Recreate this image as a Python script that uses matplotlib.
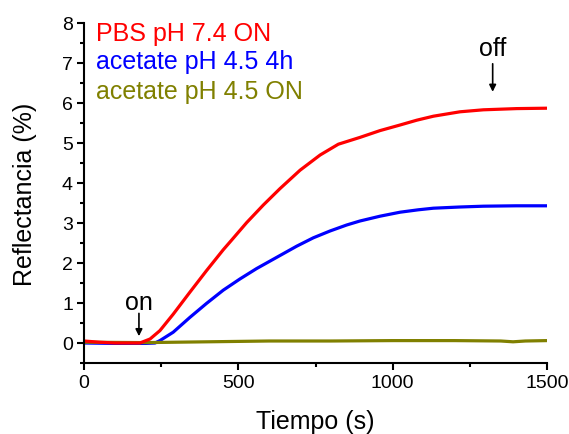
import matplotlib
matplotlib.use("Agg")
import matplotlib.pyplot as plt

plt.rcParams['font.family'] = ['Liberation Sans', 'DejaVu Sans']

# Reflectance traces (time in s, reflectance in %)
t_pbs = [0, 50, 100, 150, 181, 214, 246, 289, 343, 397, 451, 478, 527, 581,
         635, 700, 765, 824, 894, 959, 1024, 1078, 1132, 1218, 1294, 1402, 1500]
r_pbs = [0.05, 0.02, 0.0, 0.0, 0.0, 0.1, 0.31, 0.72, 1.27, 1.81, 2.33, 2.57,
         3.01, 3.45, 3.86, 4.32, 4.7, 4.97, 5.14, 5.31, 5.45, 5.57, 5.67,
         5.78, 5.83, 5.86, 5.87]

t_ac4h = [0, 100, 200, 230, 246, 289, 343, 397, 451, 505, 559, 624, 689, 743,
          797, 851, 894, 959, 1024, 1083, 1132, 1218, 1294, 1400, 1500]
r_ac4h = [0.0, -0.01, -0.01, 0.0, 0.06, 0.27, 0.64, 0.99, 1.32, 1.6, 1.86,
          2.14, 2.42, 2.63, 2.8, 2.95, 3.05, 3.17, 3.27, 3.33, 3.37, 3.4,
          3.42, 3.43, 3.43]

t_acon = [0, 200, 400, 600, 800, 1000, 1200, 1350, 1390, 1430, 1500]
r_acon = [0.02, 0.01, 0.03, 0.05, 0.05, 0.06, 0.06, 0.05, 0.03, 0.05, 0.06]

labels = ["PBS pH 7.4 ON", "acetate pH 4.5 4h", "acetate pH 4.5 ON"]
colors = ["#ff0000", "#0000ff", "#808000"]

fig = plt.figure(figsize=(5.69, 4.35), dpi=100)
ax = fig.add_axes([84 / 569, 1 - 364 / 435, 463 / 569, 340 / 435])

ax.plot(t_ac4h, r_ac4h, color=colors[1], lw=2.3, solid_capstyle='butt')
ax.plot(t_acon, r_acon, color=colors[2], lw=2.3, solid_capstyle='butt')
ax.plot(t_pbs, r_pbs, color=colors[0], lw=2.3, solid_capstyle='butt')

ax.set_xlim(0, 1500)
ax.set_ylim(-0.5, 8)
ax.set_xticks([0, 500, 1000, 1500])
ax.set_xticks([250, 750, 1250], minor=True)
ax.set_yticks(range(0, 9))
ax.set_yticks([-0.5 + i for i in range(9)], minor=True)

for side in ("top", "right"):
    ax.spines[side].set_visible(False)
for side in ("left", "bottom"):
    ax.spines[side].set_linewidth(1.5)

ax.tick_params(which='major', direction='out', length=5, width=1.5,
               labelsize=14, pad=3)
ax.tick_params(which='minor', direction='out', length=3, width=1.5)

ax.set_xlabel("Tiempo (s)", fontsize=18, labelpad=13)
ax.set_ylabel("Reflectancia (%)", fontsize=18, labelpad=18)

# Series labels
for lab, col, yy in zip(labels, colors, [7.58, 6.87, 6.13]):
    ax.text(38, yy, lab, color=col, fontsize=18, ha='left', va='baseline')

# Light on / off markers
ax.text(178, 0.85, "on", fontsize=18, ha='center', va='baseline')
ax.annotate("", xy=(178, 0.17), xytext=(178, 0.74),
            arrowprops=dict(arrowstyle='-|>', color='black', lw=1.2,
                            mutation_scale=10, shrinkA=0, shrinkB=0))
ax.text(1324, 7.2, "off", fontsize=18, ha='center', va='baseline')
ax.annotate("", xy=(1324, 6.28), xytext=(1324, 6.98),
            arrowprops=dict(arrowstyle='-|>', color='black', lw=1.2,
                            mutation_scale=10, shrinkA=0, shrinkB=0))

fig.savefig("out.png", dpi=100)
